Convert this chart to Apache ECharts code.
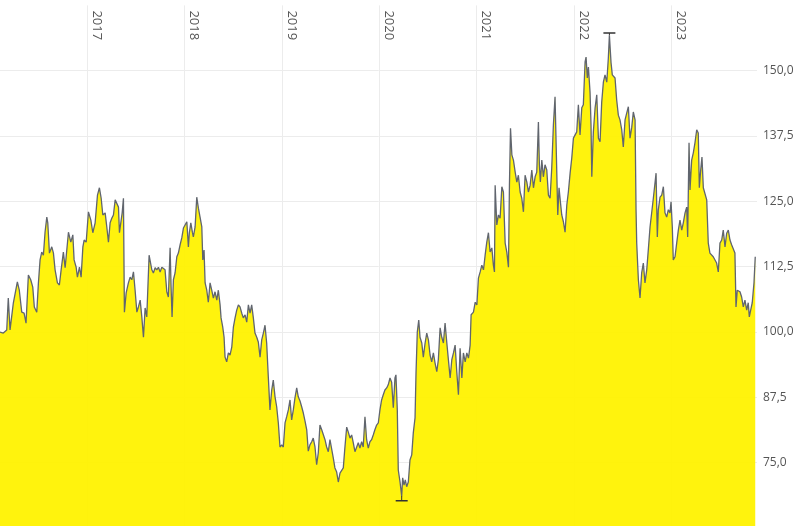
<!DOCTYPE html>
<html>
<head>
<meta charset="utf-8">
<script src="https://cdn.jsdelivr.net/npm/echarts@6/dist/echarts.min.js"></script>
<style>html,body{margin:0;padding:0;background:#fff}#c{width:800px;height:526px}</style>
</head>
<body>
<div id="c"></div>
<script>
const years = [
2016.103,2016.137,2016.172,2016.188,2016.206,2016.240,2016.257,2016.281,2016.301,2016.326,2016.350,2016.370,2016.394,2016.418,2016.439,2016.455,2016.480,2016.497,2016.514,2016.531,2016.548,2016.565,2016.583,2016.593,2016.610,2016.634,2016.651,2016.668,2016.692,2016.712,2016.730,2016.753,2016.771,2016.788,2016.805,2016.829,2016.850,2016.863,2016.884,2016.897,2016.918,2016.935,2016.953,2016.966,2016.987,
2017.010,2017.035,2017.055,2017.079,2017.103,2017.123,2017.141,2017.158,2017.182,2017.199,2017.216,2017.233,2017.251,2017.267,2017.285,2017.302,2017.319,2017.329,2017.343,2017.357,2017.370,2017.380,2017.398,2017.421,2017.439,2017.456,2017.473,2017.490,2017.508,2017.524,2017.542,2017.559,2017.576,2017.593,2017.610,2017.634,2017.662,2017.678,2017.696,2017.713,2017.730,2017.747,2017.765,2017.781,2017.798,2017.816,2017.832,2017.850,2017.860,2017.870,2017.884,2017.901,2017.919,2017.935,2017.953,2017.970,2017.987,
2018.004,2018.022,2018.038,2018.048,2018.063,2018.079,2018.089,2018.107,2018.124,2018.141,2018.158,2018.176,2018.186,2018.199,2018.210,2018.227,2018.243,2018.261,2018.278,2018.295,2018.312,2018.330,2018.346,2018.364,2018.374,2018.391,2018.405,2018.415,2018.432,2018.449,2018.466,2018.484,2018.501,2018.518,2018.535,2018.552,2018.569,2018.587,2018.603,2018.621,2018.638,2018.655,2018.672,2018.689,2018.706,2018.723,2018.741,2018.757,2018.775,2018.792,2018.809,2018.826,2018.843,2018.860,2018.877,2018.895,2018.911,2018.929,2018.946,2018.963,2018.980,2018.998,
2019.014,2019.032,2019.049,2019.066,2019.083,2019.100,2019.117,2019.134,2019.152,2019.168,2019.186,2019.203,2019.220,2019.237,2019.255,2019.271,2019.288,2019.306,2019.322,2019.340,2019.357,2019.374,2019.391,2019.409,2019.425,2019.443,2019.460,2019.477,2019.494,2019.512,2019.528,2019.545,2019.563,2019.580,2019.597,2019.614,2019.631,2019.648,2019.666,2019.682,2019.700,2019.717,2019.734,2019.751,2019.768,2019.785,2019.802,2019.820,2019.836,2019.854,2019.871,2019.888,2019.905,2019.922,2019.939,2019.956,2019.974,2019.991,
2020.008,2020.025,2020.042,2020.059,2020.077,2020.093,2020.111,2020.128,2020.145,2020.162,2020.172,2020.186,2020.196,2020.214,2020.231,2020.241,2020.255,2020.268,2020.282,2020.299,2020.316,2020.334,2020.350,2020.368,2020.378,2020.391,2020.406,2020.419,2020.437,2020.453,2020.471,2020.488,2020.505,2020.522,2020.539,2020.556,2020.573,2020.591,2020.607,2020.625,2020.642,2020.659,2020.676,2020.693,2020.710,2020.728,2020.745,2020.762,2020.779,2020.796,2020.813,2020.830,2020.848,2020.864,2020.882,2020.899,2020.916,2020.933,2020.943,2020.967,2020.985,
2021.002,2021.018,2021.036,2021.053,2021.070,2021.087,2021.104,2021.121,2021.138,2021.156,2021.172,2021.183,2021.190,2021.207,2021.224,2021.241,2021.259,2021.275,2021.293,2021.310,2021.327,2021.337,2021.348,2021.362,2021.378,2021.396,2021.413,2021.429,2021.447,2021.464,2021.481,2021.498,2021.516,2021.532,2021.550,2021.567,2021.584,2021.601,2021.618,2021.635,2021.645,2021.655,2021.670,2021.686,2021.703,2021.721,2021.738,2021.755,2021.772,2021.789,2021.806,2021.824,2021.834,2021.847,2021.861,2021.875,2021.892,2021.909,2021.927,2021.943,2021.961,2021.978,2021.995,
2022.012,2022.029,2022.046,2022.063,2022.081,2022.097,2022.115,2022.125,2022.138,2022.149,2022.166,2022.176,2022.184,2022.200,2022.218,2022.235,2022.252,2022.269,2022.286,2022.303,2022.320,2022.338,2022.354,2022.365,2022.382,2022.395,2022.413,2022.423,2022.440,2022.457,2022.474,2022.492,2022.508,2022.526,2022.543,2022.560,2022.577,2022.595,2022.611,2022.629,2022.639,2022.646,2022.663,2022.680,2022.697,2022.714,2022.731,2022.749,2022.765,2022.783,2022.800,2022.817,2022.834,2022.845,2022.858,2022.868,2022.886,2022.903,2022.920,2022.937,2022.954,2022.971,2022.988,2022.999,
2023.012,2023.022,2023.040,2023.057,2023.074,2023.091,2023.109,2023.125,2023.143,2023.160,2023.170,2023.184,2023.194,2023.211,2023.228,2023.245,2023.263,2023.279,2023.290,2023.304,2023.317,2023.331,2023.348,2023.366,2023.382,2023.399,2023.417,2023.433,2023.451,2023.468,2023.485,2023.502,2023.520,2023.536,2023.554,2023.571,2023.588,2023.605,2023.622,2023.639,2023.656,2023.667,2023.680,2023.690,2023.708,2023.725,2023.742,2023.759,2023.777,2023.793,2023.804,2023.818,2023.834,2023.852,2023.865
];
// price values
const values = [
100.0,99.8,100.4,106.5,100.4,105.6,105.7,109.6,108.0,103.8,103.6,101.7,110.9,110.0,108.6,104.8,103.8,109.4,113.8,115.3,114.7,119.1,122.0,120.9,115.1,116.3,115.1,111.9,109.4,109.0,111.9,115.3,112.3,115.7,119.1,117.2,118.6,113.8,112.4,110.5,112.4,110.5,116.3,117.6,117.2,
123.0,121.4,119.0,120.9,126.2,127.6,125.6,122.4,122.8,120.1,117.2,120.9,121.8,122.4,125.3,125.6,123.9,119.0,119.1,122.8,125.6,103.8,107.5,109.4,110.5,110.0,111.5,108.0,103.8,104.8,106.1,102.9,99.0,104.6,102.9,114.7,111.9,111.3,112.3,111.9,112.4,111.5,112.4,112.3,111.9,107.7,106.7,116.1,108.6,102.9,110.0,111.3,114.4,115.1,116.7,118.0,119.9,
120.1,121.1,116.3,119.0,120.9,119.1,118.2,120.1,125.8,123.7,122.0,120.1,113.8,115.7,109.4,108.0,105.7,109.4,108.0,106.5,107.7,106.1,108.0,105.2,102.7,101.0,99.0,95.2,94.3,96.0,95.6,97.1,101.0,102.7,104.2,105.2,104.8,103.6,102.7,103.3,101.9,105.2,103.6,105.2,102.7,99.8,99.0,98.1,95.2,98.5,99.8,101.3,97.9,91.4,85.1,88.9,90.8,87.6,85.7,82.6,78.0,78.4,
78.0,82.6,83.8,85.1,87.0,83.2,85.1,87.4,89.3,87.6,86.8,85.7,84.5,83.0,81.3,77.2,78.4,79.0,79.7,78.0,74.6,76.9,82.2,81.3,81.6,79.4,78.0,77.1,79.4,79.7,75.9,74.0,73.2,71.3,73.0,72.7,74.0,78.0,81.8,80.9,79.7,80.3,78.8,77.1,76.9,78.8,77.8,79.0,78.0,83.8,79.4,77.8,79.0,79.4,80.3,81.3,82.2,82.6,
85.1,87.0,88.0,88.9,89.3,89.9,91.2,90.4,85.5,91.2,91.8,85.1,73.6,71.3,68.6,72.1,70.7,71.7,70.4,71.3,75.5,76.5,80.7,83.6,92.2,100.0,102.3,99.0,97.9,95.2,97.9,99.8,98.5,95.6,94.3,96.0,94.1,92.4,94.7,100.8,99.0,97.9,101.7,98.1,94.7,91.2,94.7,96.0,97.5,92.4,88.0,96.9,91.2,96.0,94.3,96.0,95.0,97.5,103.3,103.8,105.7,
105.2,110.3,111.5,112.8,111.9,114.7,117.2,119.0,115.3,116.1,112.8,111.5,128.1,120.5,122.4,121.8,127.8,126.8,117.0,115.3,112.4,128.1,139.0,133.9,132.9,130.6,128.7,130.0,126.8,125.6,123.0,130.0,128.7,126.8,128.1,131.0,127.6,129.7,130.6,140.2,132.0,128.7,132.9,129.7,132.0,131.0,126.2,125.6,131.4,139.6,145.0,144.8,122.4,127.6,124.9,122.4,121.1,119.1,124.3,126.8,130.4,133.3,137.1,
137.3,138.3,143.5,137.7,142.9,143.5,151.7,152.6,148.6,150.7,145.9,139.6,129.7,138.3,142.9,145.4,137.1,136.4,144.0,147.8,149.2,147.8,152.4,156.8,151.5,149.2,149.0,148.6,144.4,141.5,140.6,138.7,135.4,140.6,141.9,143.1,137.1,139.2,142.1,140.6,123.4,117.0,110.0,106.5,111.3,113.2,109.4,111.9,115.7,120.1,120.1,125.6,125.8,130.4,118.2,123.4,125.8,126.2,127.8,122.8,122.0,123.4,122.8,124.9,
120.1,113.8,114.4,117.0,119.5,121.4,119.5,120.9,122.8,123.9,118.2,136.2,127.2,132.9,134.3,136.2,138.7,138.1,127.6,131.0,133.5,127.6,127.8,125.3,117.0,115.1,115.3,114.4,114.2,113.2,111.5,117.0,117.6,119.5,116.3,118.9,119.5,117.6,116.7,117.0,115.1,104.8,108.0,107.7,107.7,106.7,104.8,106.1,104.2,105.6,102.9,104.2,105.6,109.4,114.4
];
// axis tick values
const yTicks = [75, 87.5, 100, 112.5, 125, 137.5, 150];
const xStartYear = 2016.103, xEndYear = 2023.883;

function yearToTime(y) {
  const Y = Math.floor(y);
  const a = Date.UTC(Y, 0, 1), b = Date.UTC(Y + 1, 0, 1);
  return a + (y - Y) * (b - a);
}
const seriesData = years.map((y, i) => [yearToTime(y), values[i]]);
const YEAR = 365.25 * 86400000;

const chart = echarts.init(document.getElementById('c'), null, {renderer: 'canvas'});
chart.setOption({
  animation: false,
  backgroundColor: '#ffffff',
  grid: {left: 0, right: 43, top: 5.4, bottom: -2, containLabel: false, outerBoundsMode: 'none'},
  xAxis: {
    type: 'time',
    position: 'top',
    min: yearToTime(xStartYear),
    max: yearToTime(xEndYear),
    minInterval: YEAR,
    maxInterval: YEAR,
    axisLine: {show: false},
    axisTick: {show: false},
    splitLine: {show: true, showMinLine: false, showMaxLine: false, lineStyle: {color: '#ececec', width: 1}},
    axisLabel: {
      inside: true,
      rotate: 90,
      margin: 5,
      align: 'left',
      verticalAlign: 'bottom',
      padding: [0, 0, 3, 0],
      color: '#555',
      fontFamily: 'Open Sans',
      fontSize: 13,
      showMinLabel: false,
      showMaxLabel: false,
      formatter: function (v) { return String(new Date(v).getUTCFullYear()); }
    }
  },
  yAxis: {
    type: 'value',
    position: 'right',
    min: 62.5,
    max: 162.5,
    interval: 12.5,
    axisLine: {show: false},
    axisTick: {show: false},
    splitLine: {show: true, showMinLine: false, showMaxLine: false, lineStyle: {color: '#ececec', width: 1}},
    axisLabel: {
      margin: 6,
      color: '#555',
      fontFamily: 'Open Sans',
      fontSize: 12,
      formatter: function (v) {
        return yTicks.indexOf(v) >= 0 ? v.toFixed(1).replace('.', ',') : '';
      }
    }
  },
  series: [{
    type: 'line',
    data: seriesData,
    showSymbol: false,
    symbol: 'none',
    lineStyle: {color: '#60656e', width: 1.3},
    areaStyle: {color: 'rgb(255,242,0)', opacity: 0.95, origin: 'start'},
    markPoint: {
      silent: true,
      label: {show: false},
      itemStyle: {color: '#333'},
      data: [
        {type: 'max', symbol: 'path://M0,0 L12,0 L12,1.5 L0,1.5 Z M5.5,1.5 L6.5,1.5 L6.5,3 L5.5,3 Z', symbolSize: [12, 3], symbolOffset: [0, -1.5]},
        {type: 'min', symbol: 'path://M5.5,0 L6.5,0 L6.5,4 L5.5,4 Z M0,4 L12,4 L12,5.5 L0,5.5 Z', symbolSize: [12, 5.5], symbolOffset: [0, 2.75]}
      ]
    }
  }]
});
</script>
</body>
</html>
